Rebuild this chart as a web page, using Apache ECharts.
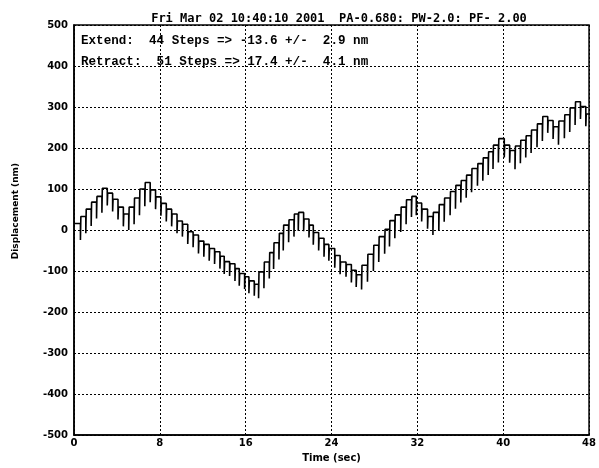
<!DOCTYPE html>
<html>
<head>
<meta charset="utf-8">
<script src="https://cdn.jsdelivr.net/npm/echarts@6/dist/echarts.min.js"></script>
<style>html,body{margin:0;padding:0;background:#fff}#c{width:599px;height:468px}</style>
</head>
<body>
<div id="c"></div>
<script>
var chartTitle = 'Fri Mar 02 10:40:10 2001  PA-0.680: PW-2.0: PF- 2.00';
var noteLines = ['Extend:  44 Steps => -13.6 +/-  2.9 nm', 'Retract:  51 Steps => 17.4 +/-  4.1 nm'];
var xTicks = [0, 8, 16, 24, 32, 40, 48];
var yTicks = [-500, -400, -300, -200, -100, 0, 100, 200, 300, 400, 500];

// start time (s) of each step
var stepTimes = [0, 0.6, 1.1, 1.6, 2.1, 2.6, 3.1, 3.6, 4.1, 4.6,
  5.1, 5.6, 6.1, 6.6, 7.1, 7.6, 8.1, 8.6, 9.1, 9.6,
  10.1, 10.6, 11.1, 11.6, 12.1, 12.6, 13.1, 13.6, 14.0, 14.5,
  15.0, 15.4, 15.9, 16.3, 16.8, 17.2, 17.7, 18.2, 18.6, 19.1,
  19.5, 20.0, 20.5, 20.9, 21.4, 21.9, 22.3, 22.8, 23.3, 23.75,
  24.3, 24.8, 25.35, 25.85, 26.3, 26.8, 27.35, 27.9, 28.4, 28.95,
  29.4, 29.9, 30.45, 30.95, 31.45, 31.9, 32.4, 32.95, 33.45, 34.0,
  34.5, 35.05, 35.55, 36.05, 36.55, 37.05, 37.6, 38.1, 38.6, 39.05,
  39.55, 40.1, 40.6, 41.1, 41.6, 42.1, 42.6, 43.15, 43.65, 44.15,
  44.65, 45.15, 45.7, 46.2, 46.7, 47.2, 47.7];
// displacement level (nm) of each step
var stepLevels = [16, 33, 51, 68, 82, 102, 90, 75, 56, 39,
  56, 78, 100, 116, 98, 81, 65, 51, 39, 22,
  14, -4, -12, -27, -35, -45, -53, -64, -77, -82,
  -94, -106, -114, -124, -132, -102, -78, -55, -31, -8,
  12, 25, 39, 43, 27, 12, -6, -20, -35, -45,
  -62, -78, -84, -98, -109, -86, -59, -37, -16, 2,
  23, 37, 56, 74, 82, 66, 51, 33, 43, 62,
  78, 94, 109, 121, 134, 150, 162, 176, 191, 207,
  223, 207, 194, 205, 219, 230, 244, 259, 277, 267,
  252, 266, 281, 298, 313, 301, 283];
// bottom of the transient spike at the start of each step (nm)
var spikeLows = [16, -24, -8, 10, 28, 42, 60, 45, 26, 9,
  0, 14, 36, 58, 68, 51, 35, 21, 9, -8,
  -16, -34, -42, -57, -65, -75, -83, -94, -107, -112,
  -124, -136, -144, -154, -160, -166, -142, -118, -95, -72,
  -50, -30, -16, -2, -3, -18, -36, -50, -65, -75,
  -92, -108, -114, -128, -139, -145, -126, -100, -78, -58,
  -40, -20, -5, 14, 32, 36, 21, 3, -12, 0,
  20, 36, 52, 67, 79, 92, 108, 120, 134, 149,
  165, 177, 164, 148, 163, 177, 188, 202, 217, 237,
  222, 208, 224, 239, 256, 271, 253];
var endTime = 48;

var pts = [[stepTimes[0], stepLevels[0]]];
for (var i = 1; i < stepTimes.length; i++) {
  pts.push([stepTimes[i], stepLevels[i - 1]]);
  pts.push([stepTimes[i], spikeLows[i]]);
  pts.push([stepTimes[i] + 0.04, stepLevels[i]]);
}
pts.push([endTime, stepLevels[stepLevels.length - 1]]);

var chart = echarts.init(document.getElementById('c'));
var dotted = {show: true, lineStyle: {color: '#000', width: 1, type: [2, 2]}};
chart.setOption({
  animation: false,
  backgroundColor: '#fff',
  title: {
    text: chartTitle, left: 334, top: 8, textAlign: 'center',
    textStyle: {fontFamily: 'DejaVu Sans Mono', fontWeight: 'bold', fontSize: 12, color: '#000'}
  },
  grid: {left: 74, right: 4, top: 25, bottom: 19, show: true, borderColor: '#000', borderWidth: 1.5, backgroundColor: 'transparent'},
  xAxis: {
    type: 'value', min: xTicks[0], max: xTicks[xTicks.length - 1], interval: 8,
    name: 'Time (sec)', nameLocation: 'middle', nameGap: 8,
    nameTextStyle: {fontFamily: 'DejaVu Sans', fontWeight: 'bold', fontSize: 10, color: '#000'},
    axisLine: {onZero: false, lineStyle: {color: '#000', width: 1.5}},
    axisTick: {show: false},
    axisLabel: {margin: 3, color: '#000', fontFamily: 'DejaVu Sans', fontWeight: 'bold', fontSize: 10},
    splitLine: dotted
  },
  yAxis: {
    type: 'value', min: yTicks[0], max: yTicks[yTicks.length - 1], interval: 100,
    name: 'Displacement (nm)', nameLocation: 'middle', nameGap: 54,
    nameTextStyle: {fontFamily: 'DejaVu Sans', fontWeight: 'bold', fontSize: 9, color: '#000', padding: [0, 0, 0, 38]},
    axisLine: {onZero: false, lineStyle: {color: '#000', width: 1.5}},
    axisTick: {show: false},
    axisLabel: {margin: 6, color: '#000', fontFamily: 'DejaVu Sans', fontWeight: 'bold', fontSize: 10},
    splitLine: dotted
  },
  graphic: [
    {type: 'text', left: 81, top: 34, style: {text: noteLines[0], font: 'bold 12.6px "Liberation Mono"', fill: '#000'}},
    {type: 'text', left: 81, top: 55, style: {text: noteLines[1], font: 'bold 12.6px "Liberation Mono"', fill: '#000'}}
  ],
  series: [{
    type: 'line', data: pts, showSymbol: false, symbol: 'none',
    lineStyle: {color: '#000', width: 1.6}, z: 5
  }]
});
</script>
</body>
</html>
